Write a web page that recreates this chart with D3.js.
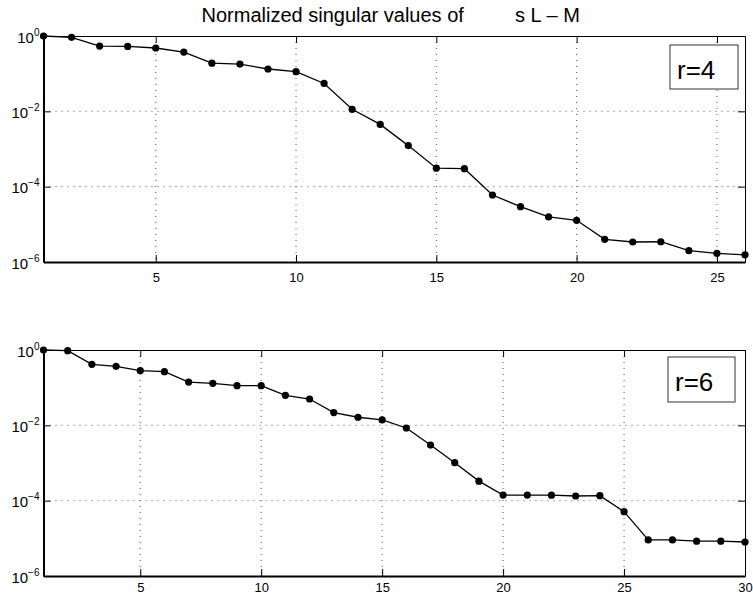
<!DOCTYPE html>
<html>
<head>
<meta charset="utf-8">
<script src="https://d3js.org/d3.v7.min.js"></script>
<style>
  body { margin: 0; background: #fff; }
  svg { font-family: "Liberation Sans", Arial, Helvetica, sans-serif; }
</style>
</head>
<body>
<svg id="drawing_region"></svg>
<script>
// singular values (normalized)
const r4_values = [1, 0.92, 0.54, 0.53, 0.48, 0.375, 0.19, 0.18, 0.133, 0.113,
  0.055, 0.0113, 0.0045, 0.00123, 3.1e-4, 3.0e-4, 6.0e-5, 2.95e-5, 1.57e-5, 1.28e-5,
  4.0e-6, 3.4e-6, 3.45e-6, 2.0e-6, 1.7e-6, 1.55e-6];
const r6_values = [1, 0.96, 0.417, 0.368, 0.282, 0.266, 0.141, 0.130, 0.113, 0.113,
  0.0625, 0.050, 0.0218, 0.0164, 0.0139, 0.0085, 0.003, 1.02e-3, 3.3e-4, 1.41e-4,
  1.41e-4, 1.4e-4, 1.33e-4, 1.36e-4, 5.1e-5, 9.1e-6, 9.1e-6, 8.4e-6, 8.4e-6, 8.0e-6];
const r4_xticks = [5, 10, 15, 20, 25];
const r6_xticks = [5, 10, 15, 20, 25, 30];
const ytick_exps = [0, -2, -4, -6];
const legends = ['r=4', 'r=6'];
const title_left = 'Normalized singular values of';
const title_right = 's L \u2013 M';

const svg = d3.select('#drawing_region')
  .attr('width', 753)
  .attr('height', 595);

// title
svg.append('text').attr('x', 201.5).attr('y', 22).attr('font-size', 20).text(title_left);
svg.append('text').attr('x', 515).attr('y', 22).attr('font-size', 20).text(title_right);

class LogPlot {
  constructor(config, data) {
    this.config = config;
    this.data = data;
    this.init();
  }

  init() {
    let self = this;
    const c = self.config;
    self.chart = svg.append('g')
      .attr('transform', `translate(${c.left}, ${c.top})`);
    self.inner_width = c.width;
    self.inner_height = c.height;

    self.xscale = d3.scaleLinear().domain([1, self.data.length]).range([0, self.inner_width]);
    self.yscale = d3.scaleLog().domain([1e-6, 1]).range([self.inner_height, 0]);

    self.render();
  }

  render() {
    let self = this;
    const c = self.config;
    const W = self.inner_width, H = self.inner_height;

    // grid
    self.chart.append('g')
      .selectAll('line')
      .data(c.xticks.filter(t => t < self.data.length))
      .join('line')
      .attr('x1', d => self.xscale(d)).attr('x2', d => self.xscale(d))
      .attr('y1', 0).attr('y2', H)
      .attr('stroke', '#555').attr('stroke-width', 1)
      .attr('stroke-dasharray', '1,5');
    self.chart.append('g')
      .selectAll('line')
      .data(ytick_exps.filter(e => e < 0 && e > -6))
      .join('line')
      .attr('x1', 0).attr('x2', W)
      .attr('y1', d => self.yscale(Math.pow(10, d))).attr('y2', d => self.yscale(Math.pow(10, d)))
      .attr('stroke', '#555').attr('stroke-width', 1)
      .attr('stroke-dasharray', '1,5');

    // axes (ticks pointing inward)
    const xaxis = d3.axisBottom(self.xscale).tickValues(c.xticks).tickSize(-7).tickSizeOuter(0);
    const xaxis_top = d3.axisTop(self.xscale).tickValues(c.xticks).tickSize(-7).tickSizeOuter(0).tickFormat('');
    const yvals = ytick_exps.map(e => Math.pow(10, e));
    const yaxis = d3.axisLeft(self.yscale).tickValues(yvals).tickSize(-7).tickSizeOuter(0).tickFormat('');
    const yaxis_right = d3.axisRight(self.yscale).tickValues(yvals).tickSize(-7).tickSizeOuter(0).tickFormat('');

    const xg = self.chart.append('g').attr('transform', `translate(0, ${H})`).call(xaxis);
    xg.selectAll('text').attr('font-size', 13).attr('fill', '#000').attr('dy', null).attr('y', c.label_y);
    xg.select('.domain').attr('stroke-width', 2);
    self.chart.append('g').call(xaxis_top);
    const yg = self.chart.append('g').call(yaxis);
    yg.select('.domain').attr('stroke-width', 2);
    self.chart.append('g').attr('transform', `translate(${W}, 0)`).call(yaxis_right);

    // 10^k labels
    const lab = self.chart.append('g')
      .selectAll('text')
      .data(ytick_exps)
      .join('text')
      .attr('x', -4)
      .attr('y', d => self.yscale(Math.pow(10, d)) + 6.5)
      .attr('text-anchor', 'end');
    lab.append('tspan').attr('font-size', 15).text('10');
    lab.append('tspan').attr('font-size', 10).attr('dy', -7)
      .text(d => d === 0 ? '0' : '\u2212' + (-d));

    // line and markers
    const line = d3.line()
      .x((d, i) => self.xscale(i + 1))
      .y(d => self.yscale(d));
    self.chart.append('path')
      .datum(self.data)
      .attr('d', line)
      .attr('fill', 'none')
      .attr('stroke', '#000')
      .attr('stroke-width', 1.3);
    self.chart.selectAll('circle')
      .data(self.data)
      .join('circle')
      .attr('cx', (d, i) => self.xscale(i + 1))
      .attr('cy', d => self.yscale(d))
      .attr('r', 3.6)
      .attr('fill', '#000');

    // legend box
    const lg = self.chart.append('g')
      .attr('transform', `translate(${c.legend.x - c.left}, ${c.legend.y - c.top})`);
    lg.append('rect')
      .attr('width', c.legend.w).attr('height', c.legend.h)
      .attr('fill', '#fff').attr('stroke', '#333').attr('stroke-width', 1);
    lg.append('text')
      .attr('x', 7).attr('y', 33.5)
      .attr('font-size', 26)
      .text(c.label);
  }
}

new LogPlot({
  left: 43.5, top: 36, width: 701.5, height: 226, label_y: 19.5,
  xticks: r4_xticks, label: legends[0],
  legend: { x: 670, y: 45, w: 68, h: 44 }
}, r4_values);

new LogPlot({
  left: 43.5, top: 350, width: 701.5, height: 226, label_y: 15.5,
  xticks: r6_xticks, label: legends[1],
  legend: { x: 668, y: 357, w: 67, h: 45 }
}, r6_values);
</script>
</body>
</html>
